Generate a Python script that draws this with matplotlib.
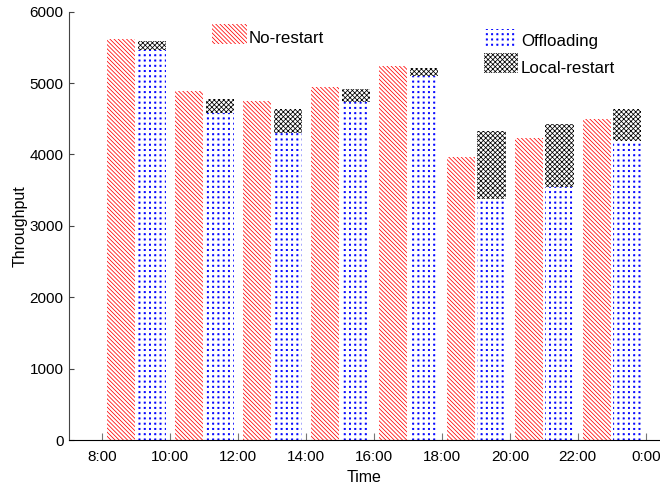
import numpy as np
import matplotlib
matplotlib.use("Agg")
import matplotlib.pyplot as plt
import matplotlib.hatch as mhatch
from matplotlib.path import Path
from matplotlib.patches import Rectangle

# ---- data ----
times = ["8:00", "10:00", "12:00", "14:00", "16:00", "18:00", "20:00", "22:00", "0:00"]
no_restart = [5620, 4890, 4750, 4940, 5240, 3970, 4230, 4490]
offloading = [5470, 4580, 4300, 4730, 5100, 3370, 3540, 4190]
local_restart = [5590, 4780, 4640, 4920, 5210, 4330, 4420, 4640]
series_names = ["No-restart", "Offloading", "Local-restart"]


# Aligned square-dot hatch for the '.' pattern (replaces the staggered default)
class GridDots(mhatch.HatchPatternBase):
    rows_per_char = 6.3
    half = 0.006

    def __init__(self, hatch, density):
        self.num_rows = int(round(hatch.count('.') * self.rows_per_char))
        self.num_vertices = self.num_rows * self.num_rows * 5

    def set_vertices_and_codes(self, vertices, codes):
        n = self.num_rows
        c = (np.arange(n) + 0.5) / n
        xs, ys = np.meshgrid(c, c)
        xs = xs.ravel()
        ys = ys.ravel()
        h = self.half
        sq = np.array([[-h, -h], [h, -h], [h, h], [-h, h], [-h, -h]])
        verts = (np.stack([xs, ys], axis=1)[:, None, :] + sq[None, :, :]).reshape(-1, 2)
        vertices[:] = verts
        cd = np.array([Path.MOVETO, Path.LINETO, Path.LINETO, Path.LINETO, Path.CLOSEPOLY])
        codes[:] = np.tile(cd, n * n)


mhatch._hatch_types = [t for t in mhatch._hatch_types
                       if t is not mhatch.SmallFilledCircles] + [GridDots]

plt.rcParams['font.family'] = ['Liberation Sans', 'DejaVu Sans']
plt.rcParams['hatch.linewidth'] = 0.55

W, H = 660, 487
fig = plt.figure(figsize=(W / 100, H / 100), dpi=100)
ax = fig.add_axes([69 / W, 47 / H, (W - 69) / W, 428.3 / H])

red = '#ff0000'
blue = '#0000ff'
styles = [
    dict(facecolor='white', edgecolor=red, linewidth=0, hatch='\\' * 8),
    dict(facecolor='white', edgecolor=blue, linewidth=0, hatch='...'),
    dict(facecolor='white', edgecolor='black', linewidth=0, hatch='x' * 7),
]

x = np.arange(len(no_restart))
w = 0.415
ax.bar(x + 0.28, no_restart, width=w, **styles[0])
ax.bar(x + 0.73, offloading, width=w, **styles[1])
extra = np.array(local_restart) - np.array(offloading)
ax.bar(x + 0.73, extra, bottom=offloading, width=w, **styles[2])

ax.set_xlim(-0.49, 8.21)
ax.set_ylim(0, 6000)
ax.set_xticks(np.arange(len(times)))
ax.set_xticklabels(times)
ax.set_yticks(np.arange(0, 6001, 1000))

for s in ['top', 'right']:
    ax.spines[s].set_visible(False)
ax.spines['left'].set_color('#444444')
ax.spines['bottom'].set_color('black')
ax.spines['left'].set_linewidth(0.8)
ax.spines['bottom'].set_linewidth(0.8)

ax.tick_params(axis='x', direction='in', length=5, width=0.8, color='#777777',
               pad=7.3, labelsize=11)
ax.tick_params(axis='y', direction='in', length=3.6, width=0.8, color='#444444',
               pad=4, labelsize=11)

ax.set_xlabel('Time', fontsize=11.5, labelpad=4)
ax.set_ylabel('Throughput', fontsize=11.5, labelpad=1.5)

# Legend keys and labels, placed in figure pixel space (top-left origin)
legend_items = [
    # (key left, key top, key width, key height, text left, text baseline)
    (212, 24, 35, 20, 249, 43),
    (485, 29, 31, 18, 521, 46),
    (484, 53, 34, 20, 521, 73),
]
for (kx, ky, kw, kh, tx, ty), name, st in zip(legend_items, series_names, styles):
    fig.patches.append(Rectangle((kx / W, 1 - (ky + kh) / H), kw / W, kh / H,
                                 transform=fig.transFigure, **st))
    fig.text(tx / W, 1 - ty / H, name, fontsize=12.2, ha='left', va='baseline')

fig.savefig('out.png', dpi=100)
